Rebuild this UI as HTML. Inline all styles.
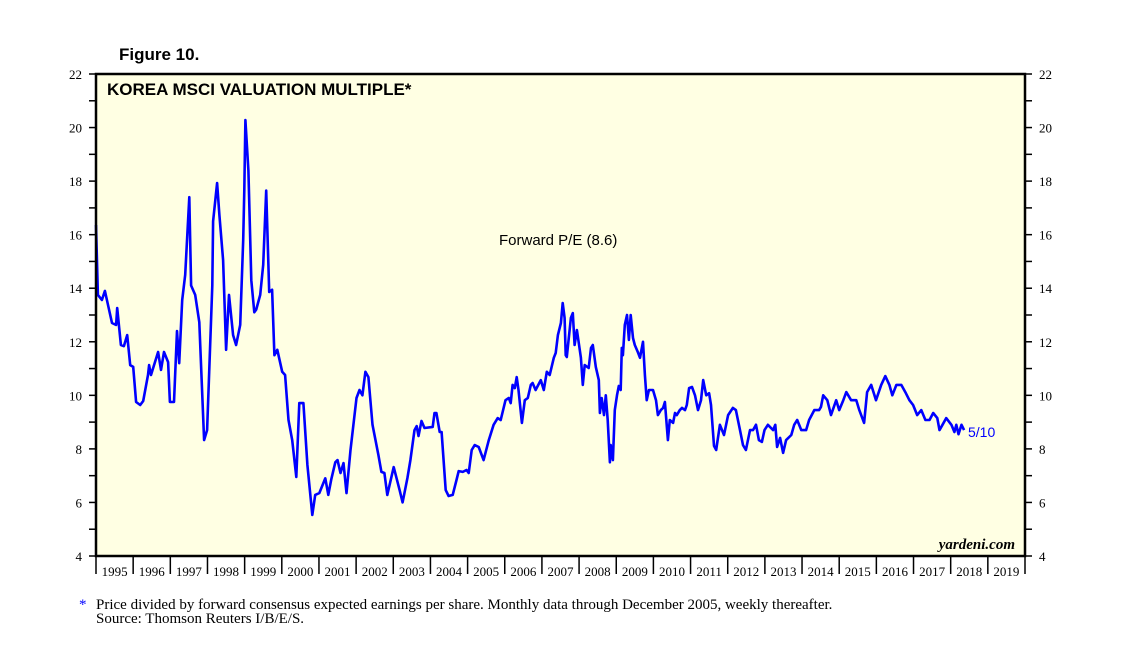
<!DOCTYPE html>
<html><head><meta charset="utf-8">
<style>
body{margin:0;background:#fff;width:1138px;height:649px;overflow:hidden}
svg{display:block}
</style></head>
<body>
<svg id="chart" width="1138" height="649" xmlns="http://www.w3.org/2000/svg">
<text x="119" y="60" font-family="Liberation Sans, sans-serif" font-weight="bold" font-size="17">Figure 10.</text>
<rect x="96" y="74" width="929" height="482" fill="#ffffe3"/>
<g id="yl"></g>
<g id="yr"></g>
<g id="xa"></g>
<path id="line" fill="none" stroke="#0000ff" stroke-width="2.6" stroke-linejoin="round"/>
<rect x="96" y="74" width="929" height="482" fill="none" stroke="#000" stroke-width="2.5"/>
<text x="107" y="95" font-family="Liberation Sans, sans-serif" font-weight="bold" font-size="17">KOREA MSCI VALUATION MULTIPLE*</text>
<text x="499" y="245" font-family="Liberation Sans, sans-serif" font-size="15">Forward P/E (8.6)</text>
<text x="968" y="437" font-family="Liberation Sans, sans-serif" font-size="14" fill="#0000ff">5/10</text>
<text x="1015" y="549" text-anchor="end" font-family="Liberation Serif, serif" font-style="italic" font-weight="bold" font-size="15">yardeni.com</text>
<text x="79" y="609" font-family="Liberation Serif, serif" font-size="15" fill="#0000ff">*</text>
<text x="96" y="609" font-family="Liberation Serif, serif" font-size="15">Price divided by forward consensus expected earnings per share. Monthly data through December 2005, weekly thereafter.</text>
<text x="96" y="623" font-family="Liberation Serif, serif" font-size="15">Source: Thomson Reuters I/B/E/S.</text>
</svg>
<script>
const yTicks=[4,6,8,10,12,14,16,18,20,22];
const years=[1995,1996,1997,1998,1999,2000,2001,2002,2003,2004,2005,2006,2007,2008,2009,2010,2011,2012,2013,2014,2015,2016,2017,2018,2019];
const dates=[1995.00,1995.05,1995.16,1995.24,1995.43,1995.54,1995.57,1995.67,1995.75,1995.84,1995.92,1996.00,1996.08,1996.19,1996.27,1996.40,1996.43,1996.48,1996.67,1996.75,1996.83,1996.94,1996.99,1997.10,1997.18,1997.24,1997.32,1997.40,1997.51,1997.56,1997.67,1997.78,1997.91,1997.99,1998.13,1998.15,1998.26,1998.32,1998.42,1998.50,1998.58,1998.69,1998.77,1998.88,1998.96,1998.99,1999.02,1999.10,1999.18,1999.26,1999.31,1999.42,1999.50,1999.58,1999.66,1999.74,1999.80,1999.88,2000.01,2000.09,2000.18,2000.28,2000.39,2000.47,2000.58,2000.69,2000.82,2000.90,2001.01,2001.17,2001.25,2001.33,2001.44,2001.50,2001.58,2001.66,2001.74,2001.85,2002.01,2002.09,2002.17,2002.25,2002.33,2002.44,2002.60,2002.68,2002.76,2002.84,2003.01,2003.17,2003.25,2003.38,2003.46,2003.57,2003.63,2003.68,2003.76,2003.84,2004.06,2004.11,2004.16,2004.25,2004.30,2004.41,2004.49,2004.60,2004.70,2004.76,2004.87,2004.97,2005.03,2005.11,2005.19,2005.30,2005.43,2005.57,2005.70,2005.81,2005.89,2006.02,2006.11,2006.16,2006.21,2006.27,2006.32,2006.37,2006.46,2006.54,2006.62,2006.70,2006.75,2006.83,2006.97,2007.05,2007.13,2007.21,2007.32,2007.37,2007.43,2007.51,2007.56,2007.61,2007.64,2007.67,2007.78,2007.83,2007.88,2007.94,2008.05,2008.10,2008.15,2008.26,2008.32,2008.37,2008.45,2008.53,2008.56,2008.61,2008.67,2008.72,2008.77,2008.83,2008.85,2008.91,2008.96,2009.02,2009.07,2009.12,2009.15,2009.18,2009.23,2009.29,2009.34,2009.39,2009.45,2009.50,2009.58,2009.64,2009.72,2009.77,2009.82,2009.88,2009.99,2010.07,2010.12,2010.20,2010.26,2010.31,2010.39,2010.44,2010.53,2010.58,2010.63,2010.71,2010.77,2010.85,2010.90,2010.96,2011.04,2011.12,2011.20,2011.28,2011.34,2011.42,2011.50,2011.55,2011.63,2011.69,2011.71,2011.79,2011.90,2012.01,2012.14,2012.22,2012.33,2012.41,2012.49,2012.60,2012.68,2012.76,2012.84,2012.92,2012.99,2013.08,2013.22,2013.28,2013.33,2013.41,2013.49,2013.57,2013.71,2013.79,2013.87,2013.98,2014.11,2014.19,2014.33,2014.46,2014.51,2014.57,2014.68,2014.78,2014.92,2015.00,2015.11,2015.19,2015.32,2015.46,2015.54,2015.67,2015.75,2015.86,2015.99,2016.13,2016.24,2016.35,2016.43,2016.54,2016.67,2016.78,2016.89,2016.99,2017.10,2017.21,2017.32,2017.43,2017.53,2017.64,2017.70,2017.78,2017.88,2018.02,2018.10,2018.15,2018.21,2018.29,2018.36];
const pe=[16.36,13.75,13.56,13.9,12.7,12.63,13.26,11.88,11.84,12.25,11.13,11.06,9.75,9.64,9.79,10.76,11.13,10.76,11.62,10.95,11.62,11.24,9.75,9.75,12.4,11.2,13.56,14.5,17.4,14.1,13.75,12.73,8.33,8.7,14.1,16.5,17.93,16.73,15.05,11.7,13.75,12.25,11.88,12.63,15.8,17.65,20.28,18.4,14.3,13.1,13.2,13.75,14.87,17.65,13.86,13.94,11.5,11.7,10.88,10.76,9.08,8.33,6.95,9.71,9.71,7.4,5.53,6.28,6.35,6.9,6.28,6.85,7.5,7.58,7.1,7.47,6.35,7.96,9.9,10.2,10.0,10.88,10.68,8.9,7.77,7.14,7.1,6.28,7.32,6.46,6.0,6.91,7.58,8.7,8.85,8.48,9.04,8.78,8.82,9.34,9.34,8.63,8.63,6.46,6.24,6.28,6.84,7.17,7.14,7.21,7.1,7.96,8.14,8.07,7.58,8.33,8.9,9.15,9.08,9.82,9.9,9.71,10.39,10.27,10.68,10.2,8.97,9.82,9.9,10.39,10.46,10.2,10.57,10.2,10.88,10.76,11.4,11.58,12.25,12.7,13.45,12.89,11.5,11.43,12.89,13.07,11.88,12.44,11.4,10.39,11.13,11.02,11.77,11.88,11.06,10.57,9.34,9.9,9.26,10.0,9.08,7.5,8.14,7.58,9.45,10.0,10.35,10.2,11.77,11.5,12.63,13.0,12.07,13.0,12.14,11.88,11.62,11.4,12.0,10.76,9.82,10.2,10.2,9.82,9.26,9.45,9.53,9.75,8.33,9.08,8.97,9.34,9.26,9.45,9.53,9.45,9.64,10.27,10.31,10.0,9.45,9.82,10.57,10.0,10.08,9.64,8.11,7.96,8.14,8.9,8.52,9.26,9.53,9.45,8.7,8.14,7.96,8.7,8.7,8.9,8.33,8.26,8.7,8.9,8.7,8.9,8.07,8.41,7.85,8.33,8.52,8.9,9.08,8.7,8.7,9.08,9.45,9.45,9.57,10.0,9.82,9.26,9.82,9.45,9.82,10.12,9.82,9.82,9.45,8.97,10.12,10.39,9.82,10.39,10.72,10.39,10.0,10.39,10.39,10.12,9.82,9.64,9.26,9.45,9.08,9.08,9.34,9.15,8.7,8.9,9.15,8.9,8.63,8.9,8.55,8.9,8.7];
const X0=96,X1=1025,Y0=556,Y1=74;
function xs(t){return X0+(t-1995)/25*(X1-X0);}
function ys(v){return Y0-(v-4)/18*(Y0-Y1);}
const NS='http://www.w3.org/2000/svg';
function mk(tag,parent,attrs){const e=document.createElementNS(NS,tag);for(const k in attrs)e.setAttribute(k,attrs[k]);parent.appendChild(e);return e;}
const yl=document.getElementById('yl'),yr=document.getElementById('yr'),xa=document.getElementById('xa');
for(let v=4;v<=22;v++){
  const y=ys(v);
  const t1=mk('line',yl,{x1:X0-7,x2:X0,y1:y,y2:y,stroke:'#000','stroke-width':1.5});
  
  
  const t2=mk('line',yr,{x1:X1,x2:X1+7,y1:y,y2:y,stroke:'#000','stroke-width':1.5});
  
  
}
yTicks.forEach(v=>{
  const y=ys(v);
  const a=mk('text',yl,{x:X0-14,y:y+5,'text-anchor':'end','font-family':'Liberation Serif, serif','font-size':13});
  a.textContent=v;
  
  
  const b=mk('text',yr,{x:X1+14,y:y+5,'font-family':'Liberation Serif, serif','font-size':13});
  b.textContent=v;
  
  
});
years.forEach(yr_=>{
  const x=xs(yr_);
  const t=mk('line',xa,{x1:x,x2:x,y1:Y0,y2:Y0+18,stroke:'#000','stroke-width':1.5});
  
  
  const l=mk('text',xa,{x:(x+xs(yr_+1))/2,y:Y0+20,'text-anchor':'middle','font-family':'Liberation Serif, serif','font-size':13});
  l.textContent=yr_;
  
  
});
const te=mk('line',xa,{x1:X1,x2:X1,y1:Y0,y2:Y0+18,stroke:'#000','stroke-width':1.5});


let d='';
dates.forEach((t,i)=>{d+=(i?'L':'M')+xs(t).toFixed(1)+','+ys(pe[i]).toFixed(1);});
document.getElementById('line').setAttribute('d',d);
</script>
</body></html>
